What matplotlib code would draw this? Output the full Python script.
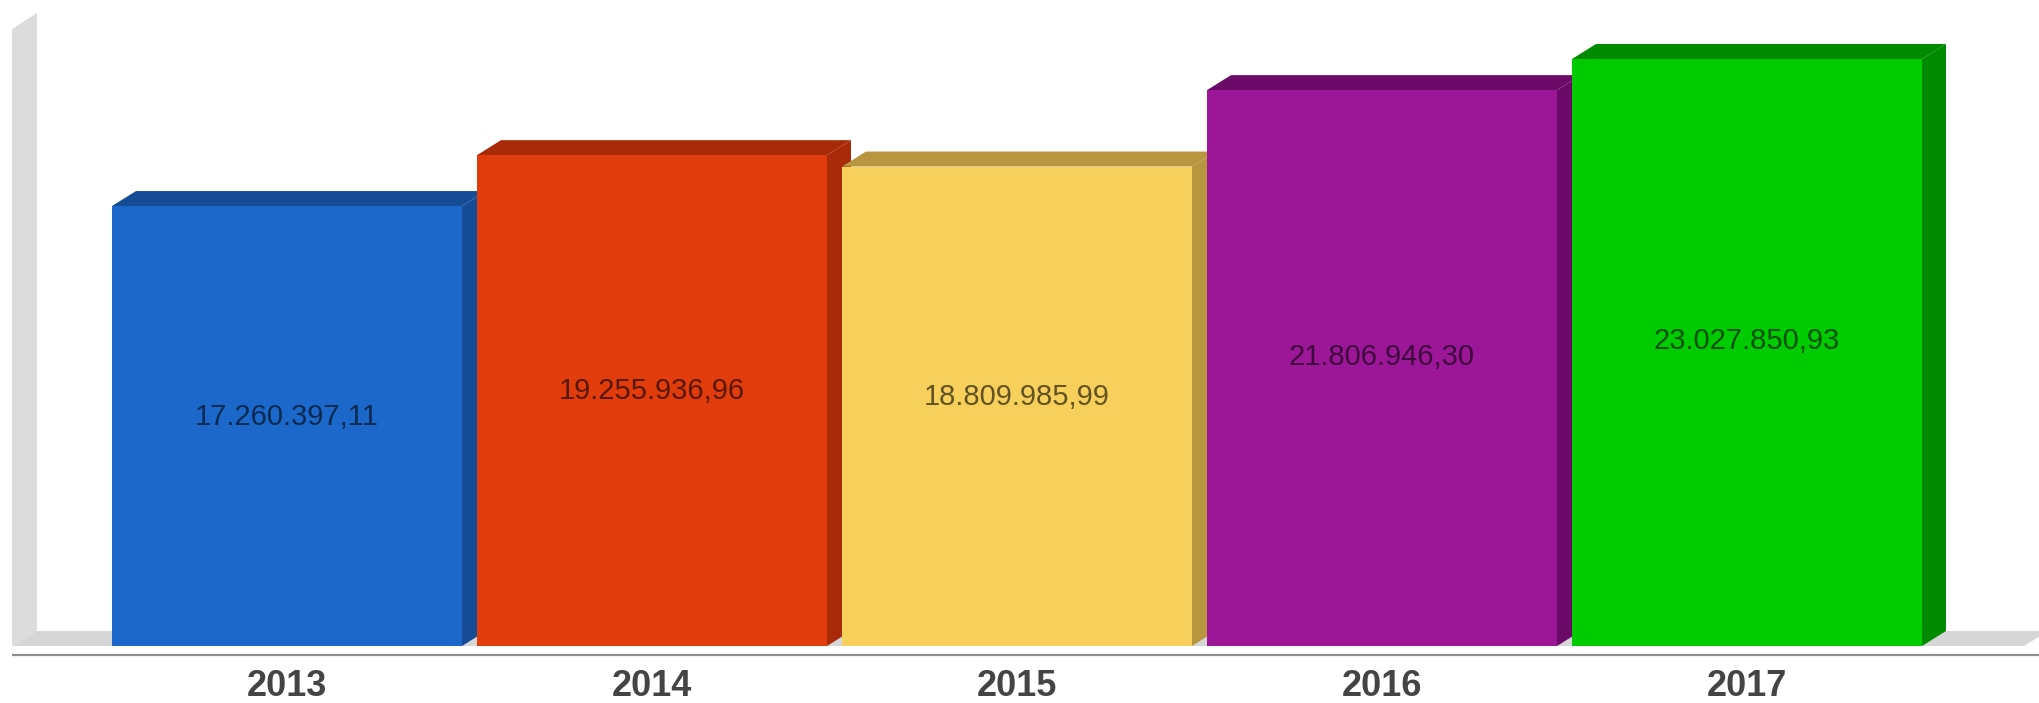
import matplotlib
matplotlib.use("Agg")
import matplotlib.pyplot as plt
from matplotlib.patches import Polygon
from matplotlib.transforms import blended_transform_factory
import numpy as np

# data
years = ["2013", "2014", "2015", "2016", "2017"]
values = [17260397.11, 19255936.96, 18809985.99, 21806946.30, 23027850.93]

front_colors = ["#1b68ca", "#e03c0c", "#f7d05c", "#9c1797", "#00cb00"]
dark_colors = ["#164c95", "#a82a08", "#b8963f", "#6c0a6a", "#008a00"]

W, H = 2040, 703
fig = plt.figure(figsize=(W / 100, H / 100), dpi=100)
ax = fig.add_axes([0, 0, 1, 1])
ax.axis("off")

# pixel layout of the plot area
px_per_cat = 365.0
x0_px = 287.0
base_px = 646.0          # from top
px_per_unit = 25.49e-6   # pixels per value unit
ax.set_xlim(-x0_px / px_per_cat, (W - x0_px) / px_per_cat)
ax.set_ylim(-(H - base_px) / px_per_unit, base_px / px_per_unit)


def fpx(x, y):
    # pixel (from top-left) -> figure fraction
    return (x / W, 1 - y / H)


# back wall and floor
wall = Polygon([fpx(12, 29), fpx(37, 13), fpx(37, 631), fpx(12, 646)],
               closed=True, transform=fig.transFigure, facecolor="#dcdcdc",
               edgecolor="none", zorder=0)
ax.add_patch(wall)
floor = Polygon([fpx(12, 646), fpx(37, 631), fpx(2048, 631), fpx(2024, 646)],
                closed=True, transform=fig.transFigure, facecolor="#d6d6d6",
                edgecolor="none", zorder=0)
ax.add_patch(floor)
ax.plot([12 / W, 1], [1 - 655 / H, 1 - 655 / H], transform=fig.transFigure,
        color="#8e8e8e", lw=1.6, zorder=1, solid_capstyle="butt")

x = np.arange(len(values))
w = 350 / px_per_cat
dx = 24 / px_per_cat
dy = 15 / px_per_unit

bars = ax.bar(x, values, width=w, color=front_colors, linewidth=0)
for i, (b, v) in enumerate(zip(bars, values)):
    b.set_zorder(3 + 2 * i)
    xl, xr = x[i] - w / 2, x[i] + w / 2
    top = Polygon([(xl, v), (xl + dx, v + dy), (xr + dx, v + dy), (xr, v)],
                  closed=True, facecolor=dark_colors[i], edgecolor="none",
                  zorder=2 + 2 * i)
    side = Polygon([(xr, 0), (xr + dx, dy), (xr + dx, v + dy), (xr, v)],
                   closed=True, facecolor=dark_colors[i], edgecolor="none",
                   zorder=2 + 2 * i)
    ax.add_patch(top)
    ax.add_patch(side)

    lab = f"{v:,.2f}".replace(",", "X").replace(".", ",").replace("X", ".")
    ax.text(x[i], v * 0.52, lab, ha="center", va="center", fontsize=21,
            family="Liberation Sans", color="black", alpha=0.6, zorder=20)

trans = blended_transform_factory(ax.transData, fig.transFigure)
for i, yr in enumerate(years):
    ax.text(x[i], 1 - 686 / H, yr, transform=trans, ha="center", va="center",
            fontsize=26, fontweight="bold", family="Liberation Sans",
            color="#444444")

fig.savefig("out.png", dpi=100, facecolor="white")
